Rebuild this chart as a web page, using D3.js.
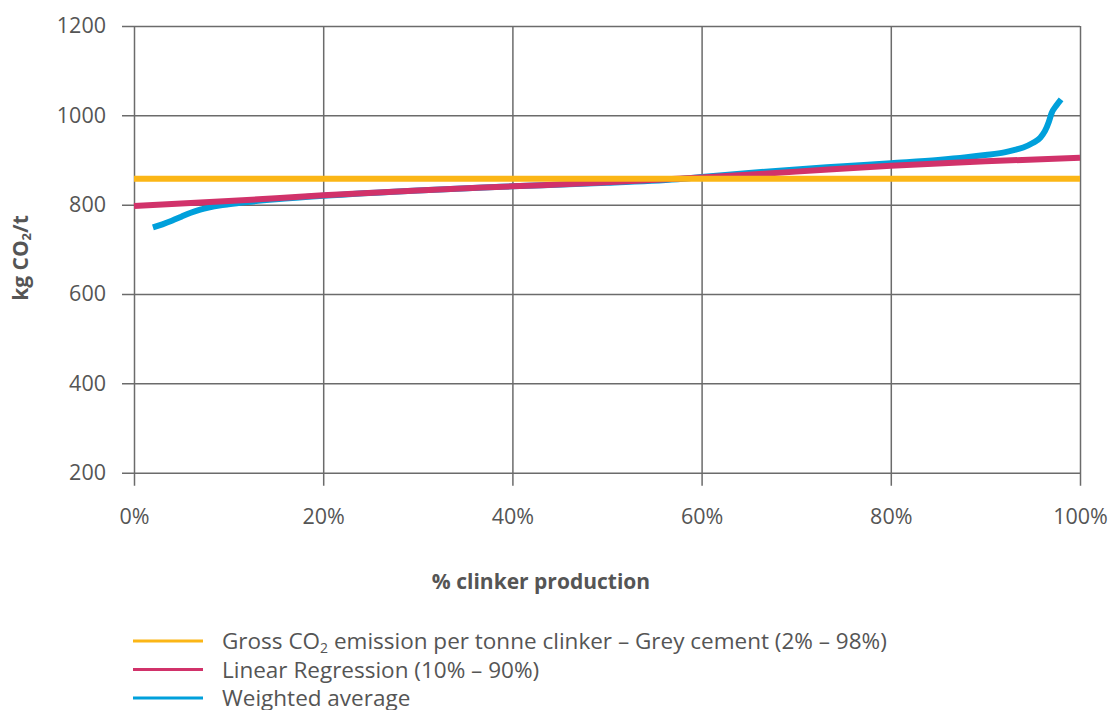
<!DOCTYPE html>
<html>
<head>
<meta charset="utf-8">
<script src="https://cdn.jsdelivr.net/npm/d3@7"></script>
<style>
  html, body { margin: 0; padding: 0; background: #fff; }
  svg text { font-family: "Open Sans", "Noto Sans", sans-serif; fill: #555; }
</style>
</head>
<body>
<svg id="chart" width="1112" height="710"></svg>
<script>
// x: share of clinker production (%), y: kg CO2 per tonne clinker
const xTicks = [0, 20, 40, 60, 80, 100];
const yTicks = [200, 400, 600, 800, 1000, 1200];

// Gross CO2 emission per tonne clinker, grey cement (2% – 98%)
const grossX = [0, 100];
const grossY = [858, 858];

// Linear regression (10% – 90%)
const regX = [0, 10, 20, 30, 40, 50, 60, 70, 80, 90, 100];
const regY = [797, 808, 821, 832, 841, 850, 861, 874, 887, 897, 905];

// Weighted average curve
const avgX = [2, 3, 4, 5, 6, 7, 8, 9, 10, 12, 15, 20, 30, 40, 50, 58, 60, 65, 70, 75, 80, 85, 88, 90, 92, 93, 94, 95, 95.8, 96.3, 96.7, 97.0, 97.5, 98];
const avgY = [749, 756, 764, 773, 782, 789, 794, 798, 801, 806, 812, 820, 832, 841, 849, 858, 862, 871, 879, 886, 893, 900, 906, 911, 917, 922, 928, 938, 950, 965, 985, 1005, 1022, 1036];

const legendItems = [
  { color: "#fbb616", parts: ["Gross CO", "2", " emission per tonne clinker – Grey cement (2% – 98%)"] },
  { color: "#d1326a", parts: ["Linear Regression (10% – 90%)"] },
  { color: "#00a0db", parts: ["Weighted average"] }
];

const svg = d3.select("#chart");
const plotLeft = 134, plotRight = 1080, plotTop = 26, plotBottom = 472.7;

const x = d3.scaleLinear().domain([0, 100]).range([plotLeft, plotRight]);
const y = d3.scaleLinear().domain([200, 1200]).range([plotBottom, plotTop]);

const gridColor = "#6b6b6b";

// horizontal grid lines with short outward ticks
svg.append("g")
  .attr("transform", `translate(${plotLeft},0)`)
  .call(d3.axisLeft(y).tickValues(yTicks).tickSize(-(plotRight - plotLeft)).tickSizeOuter(0).tickPadding(16).tickFormat(d3.format("d")))
  .call(g => g.select(".domain").remove())
  .call(g => g.selectAll(".tick line").attr("stroke", gridColor).attr("stroke-width", 1.5).attr("x1", -12))
  .call(g => g.selectAll(".tick text").attr("font-size", 21.5).style("fill", "#555").attr("x", -28));

// vertical grid lines with short ticks below the plot
svg.append("g")
  .attr("transform", `translate(0,${plotBottom})`)
  .call(d3.axisBottom(x).tickValues(xTicks).tickSize(-(plotBottom - plotTop)).tickSizeOuter(0).tickPadding(36).tickFormat(d => d + "%"))
  .call(g => g.select(".domain").remove())
  .call(g => g.selectAll(".tick line").attr("stroke", gridColor).attr("stroke-width", 1.5).attr("y1", 13))
  .call(g => g.selectAll(".tick text").attr("font-size", 21.5).style("fill", "#555"));

const line = d3.line().x(d => x(d[0])).y(d => y(d[1]));
const smooth = d3.line().x(d => x(d[0])).y(d => y(d[1])).curve(d3.curveMonotoneX);

const plot = svg.append("g").attr("fill", "none").attr("stroke-linecap", "butt");

plot.append("path")
  .datum(d3.zip(avgX, avgY))
  .attr("d", smooth)
  .attr("stroke", "#00a0db")
  .attr("stroke-width", 6);

plot.append("path")
  .datum(d3.zip(regX, regY))
  .attr("d", smooth)
  .attr("stroke", "#d1326a")
  .attr("stroke-width", 6);

plot.append("path")
  .datum(d3.zip(grossX, grossY))
  .attr("d", line)
  .attr("stroke", "#fbb616")
  .attr("stroke-width", 6);

// axis titles
svg.append("text")
  .attr("x", 541)
  .attr("y", 589)
  .attr("text-anchor", "middle")
  .attr("font-size", 21)
  .attr("font-weight", "bold")
  .text("% clinker production");

const yTitle = svg.append("text")
  .attr("transform", `translate(28,258) rotate(-90)`)
  .attr("text-anchor", "middle")
  .attr("font-size", 21)
  .attr("font-weight", "bold");
yTitle.append("tspan").text("kg CO");
yTitle.append("tspan").attr("font-size", 13).attr("dy", 3).text("2");
yTitle.append("tspan").attr("dy", -3).text("/t");

// legend
const legend = svg.append("g");
legendItems.forEach((item, i) => {
  const ly = 641 + i * 28.5;
  legend.append("line")
    .attr("x1", 133).attr("x2", 203)
    .attr("y1", ly).attr("y2", ly)
    .attr("stroke", item.color).attr("stroke-width", 3);
  const t = legend.append("text")
    .attr("x", 222).attr("y", ly + 8)
    .attr("font-size", 22.5);
  item.parts.forEach((p, j) => {
    if (j === 1) t.append("tspan").attr("font-size", 14).attr("dy", 4).text(p);
    else if (j === 2) t.append("tspan").attr("dy", -4).text(p);
    else t.append("tspan").text(p);
  });
});
</script>
</body>
</html>
